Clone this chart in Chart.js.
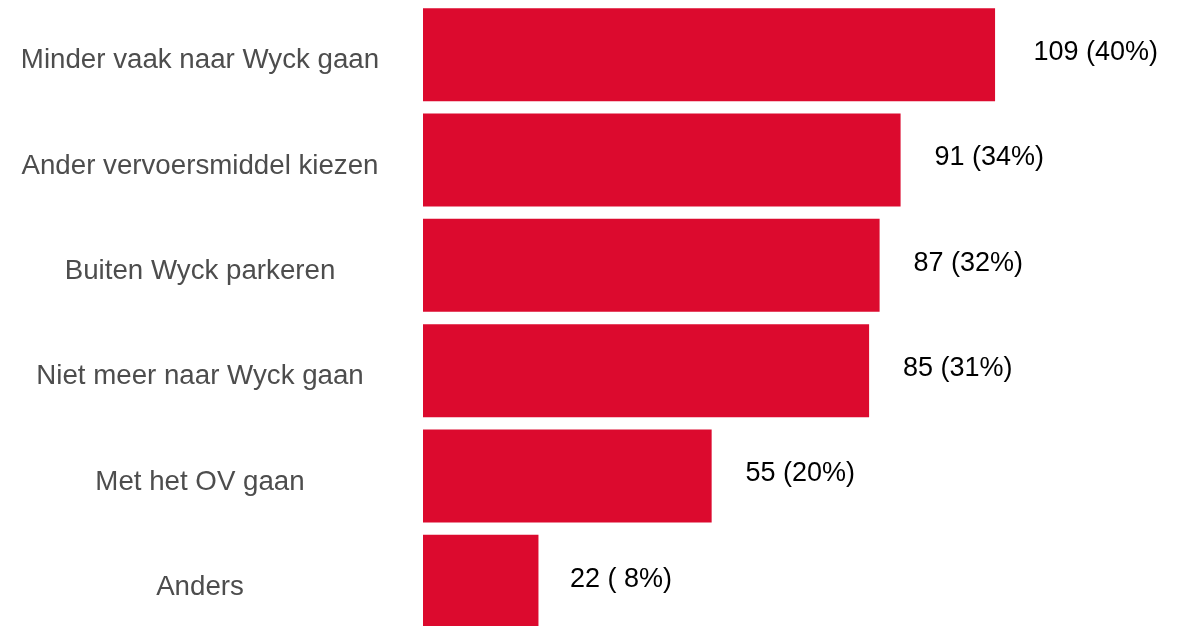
<!DOCTYPE html>
<html>
<head>
<meta charset="utf-8">
<script src="https://cdn.jsdelivr.net/npm/chart.js@4/dist/chart.umd.min.js"></script>
<style>
  html, body { margin:0; padding:0; background:#fff; overflow:hidden; }
  #wrap { position:relative; width:1187px; height:634px; }
</style>
</head>
<body>
<div id="wrap"><canvas id="barChart"></canvas></div>
<script>
// ========== DATA ==========
const categories = [
  "Minder vaak naar Wyck gaan",
  "Ander vervoersmiddel kiezen",
  "Buiten Wyck parkeren",
  "Niet meer naar Wyck gaan",
  "Met het OV gaan",
  "Anders"
];
const counts = [109, 91, 87, 85, 55, 22];
const valueLabels = ["109 (40%)", "91 (34%)", "87 (32%)", "85 (31%)", "55 (20%)", "22 ( 8%)"];

const FONT = "'Liberation Sans', Arial, sans-serif";
const CAT_SIZE = 27.7;
const VAL_SIZE = 27;

// centre the category labels around x=200 (axis ends at 423)
const meas = document.createElement("canvas").getContext("2d");
meas.font = CAT_SIZE + "px " + FONT;
const widest = Math.max(...categories.map(c => meas.measureText(c).width));
const labelPad = 215 - widest / 2;

// ========== VALUE LABELS ==========
const valueLabelPlugin = {
  id: "valueLabels",
  afterDatasetsDraw(chart){
    const ctx = chart.ctx;
    const meta = chart.getDatasetMeta(0);
    ctx.save();
    ctx.font = VAL_SIZE + "px " + FONT;
    ctx.fillStyle = "#000000";
    ctx.textAlign = "left";
    ctx.textBaseline = "middle";
    meta.data.forEach((bar, i)=>{
      const txt = valueLabels[i];
      const w = ctx.measureText(txt).width;
      ctx.fillText(txt, bar.x + 0.3 * w + 1, bar.y - 2);
    });
    ctx.restore();
  }
};

// ========== CHART ==========
new Chart(document.getElementById("barChart"), {
  type: "bar",
  data: {
    labels: categories,
    datasets: [{
      data: counts,
      backgroundColor: "#DC0A2E",
      borderWidth: 0,
      barPercentage: 0.883,
      categoryPercentage: 1
    }]
  },
  options: {
    indexAxis: "y",
    responsive: true,
    maintainAspectRatio: false,
    animation: false,
    layout: { padding: { top: 2, bottom: 0, left: 0, right: 3 } },
    plugins: { legend: { display: false }, tooltip: { enabled: false } },
    scales: {
      x: { display: false, min: 0, max: 145 },
      y: {
        grid: { display: false },
        border: { display: false },
        afterFit(scale){
          scale.width = 423;
          scale.paddingTop = 0;
          scale.paddingBottom = 0;
        },
        ticks: {
          crossAlign: "center",
          padding: labelPad,
          labelOffset: 6,
          color: "#4D4D4D",
          font: { family: FONT, size: CAT_SIZE }
        }
      }
    }
  },
  plugins: [valueLabelPlugin]
});
</script>
</body>
</html>
